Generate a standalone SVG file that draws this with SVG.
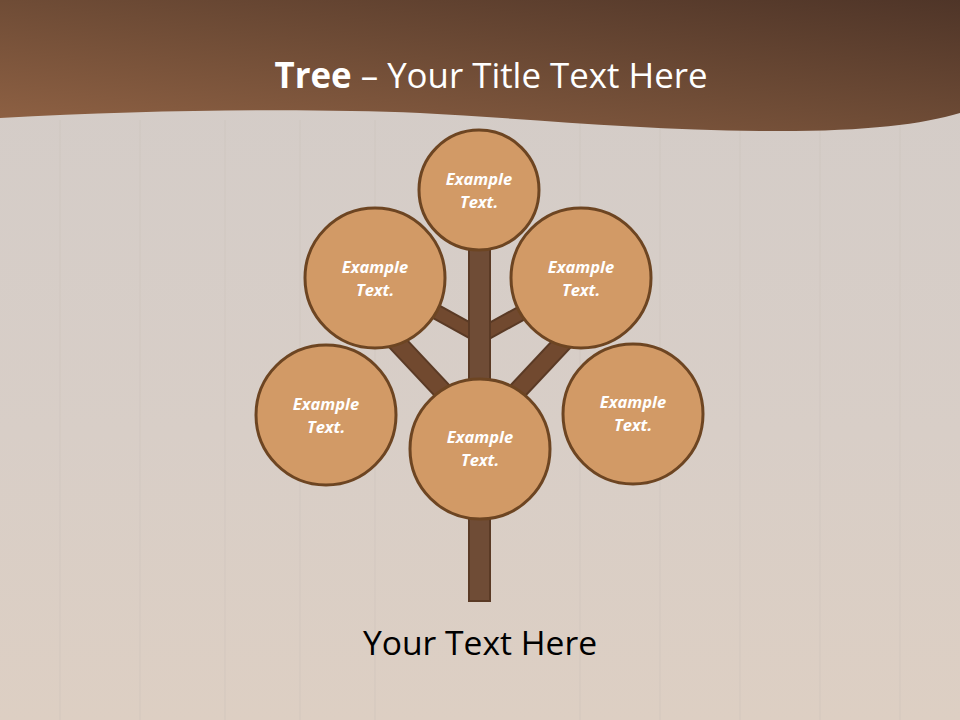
<svg xmlns="http://www.w3.org/2000/svg" width="960" height="720" viewBox="0 0 960 720">
<defs>
<linearGradient id="bg" x1="0" y1="0" x2="0" y2="1">
<stop offset="0" stop-color="#d3ccc8"/>
<stop offset="0.6" stop-color="#d8cec7"/>
<stop offset="1" stop-color="#ddcfc3"/>
</linearGradient>
<linearGradient id="hdr" x1="0" y1="1" x2="1" y2="0">
<stop offset="0" stop-color="#906244"/>
<stop offset="0.5" stop-color="#6f4c36"/>
<stop offset="1" stop-color="#4f3528"/>
</linearGradient>
<style>
.node circle{fill:#d29a66;stroke:#6d4522;stroke-width:3}
.node text{font-family:"Open Sans","Liberation Sans",sans-serif;font-weight:bold;font-style:italic;font-size:16.5px;fill:#ffffff;text-anchor:middle}
.br{stroke:#5a3a25;stroke-linecap:butt}
.brf{stroke:#71492f;stroke-linecap:butt}
.plank{stroke:#c9bfb8;stroke-width:1;opacity:0.4}
</style>
</defs>
<rect x="0" y="0" width="960" height="720" fill="url(#bg)"/>
<g id="planks">
<line class="plank" x1="60" y1="120" x2="60" y2="720"/>
<line class="plank" x1="140" y1="120" x2="140" y2="720"/>
<line class="plank" x1="225" y1="120" x2="225" y2="720"/>
<line class="plank" x1="300" y1="120" x2="300" y2="720"/>
<line class="plank" x1="375" y1="120" x2="375" y2="720"/>
<line class="plank" x1="580" y1="120" x2="580" y2="720"/>
<line class="plank" x1="660" y1="120" x2="660" y2="720"/>
<line class="plank" x1="740" y1="120" x2="740" y2="720"/>
<line class="plank" x1="820" y1="120" x2="820" y2="720"/>
<line class="plank" x1="900" y1="120" x2="900" y2="720"/>
</g>
<path id="header" d="M0,0 H960 V113 C920,125 860,132 760,131 C640,130 520,118 420,113 C300,108 150,110 0,118 Z" fill="url(#hdr)"/>
<text x="491" y="88" font-family="Open Sans, Liberation Sans, sans-serif" font-size="35" fill="#ffffff" text-anchor="middle" textLength="433" lengthAdjust="spacingAndGlyphs"><tspan font-weight="bold">Tree</tspan> – Your Title Text Here</text>
<g id="connectors">
<line class="br" x1="480" y1="336" x2="375" y2="278" stroke-width="16"/>
<line class="brf" x1="480" y1="336" x2="375" y2="278" stroke-width="12"/>
<line class="br" x1="480" y1="336" x2="585" y2="278" stroke-width="16"/>
<line class="brf" x1="480" y1="336" x2="585" y2="278" stroke-width="12"/>
<line class="br" x1="480" y1="431" x2="375" y2="319" stroke-width="20"/>
<line class="brf" x1="480" y1="431" x2="375" y2="319" stroke-width="16"/>
<line class="br" x1="480" y1="431" x2="585" y2="319" stroke-width="20"/>
<line class="brf" x1="480" y1="431" x2="585" y2="319" stroke-width="16"/>
<rect x="469" y="240" width="21" height="361" fill="#6f4c36" stroke="#5a3a25" stroke-width="2"/>
</g>
<g id="node-top" class="node"><circle cx="479" cy="190" r="60"/><text x="479" y="185">Example</text><text x="479" y="208">Text.</text></g>
<g id="node-upper-left" class="node"><circle cx="375" cy="278" r="70"/><text x="375" y="273">Example</text><text x="375" y="296">Text.</text></g>
<g id="node-upper-right" class="node"><circle cx="581" cy="278" r="70"/><text x="581" y="273">Example</text><text x="581" y="296">Text.</text></g>
<g id="node-lower-left" class="node"><circle cx="326" cy="415" r="70"/><text x="326" y="410">Example</text><text x="326" y="433">Text.</text></g>
<g id="node-lower-right" class="node"><circle cx="633" cy="414" r="70"/><text x="633" y="408">Example</text><text x="633" y="431">Text.</text></g>
<g id="node-center" class="node"><circle cx="480" cy="449" r="70"/><text x="480" y="443">Example</text><text x="480" y="466">Text.</text></g>
<text x="480" y="655" font-family="Open Sans, Liberation Sans, sans-serif" font-size="33" fill="#000000" text-anchor="middle" textLength="234" lengthAdjust="spacingAndGlyphs">Your Text Here</text>
</svg>
